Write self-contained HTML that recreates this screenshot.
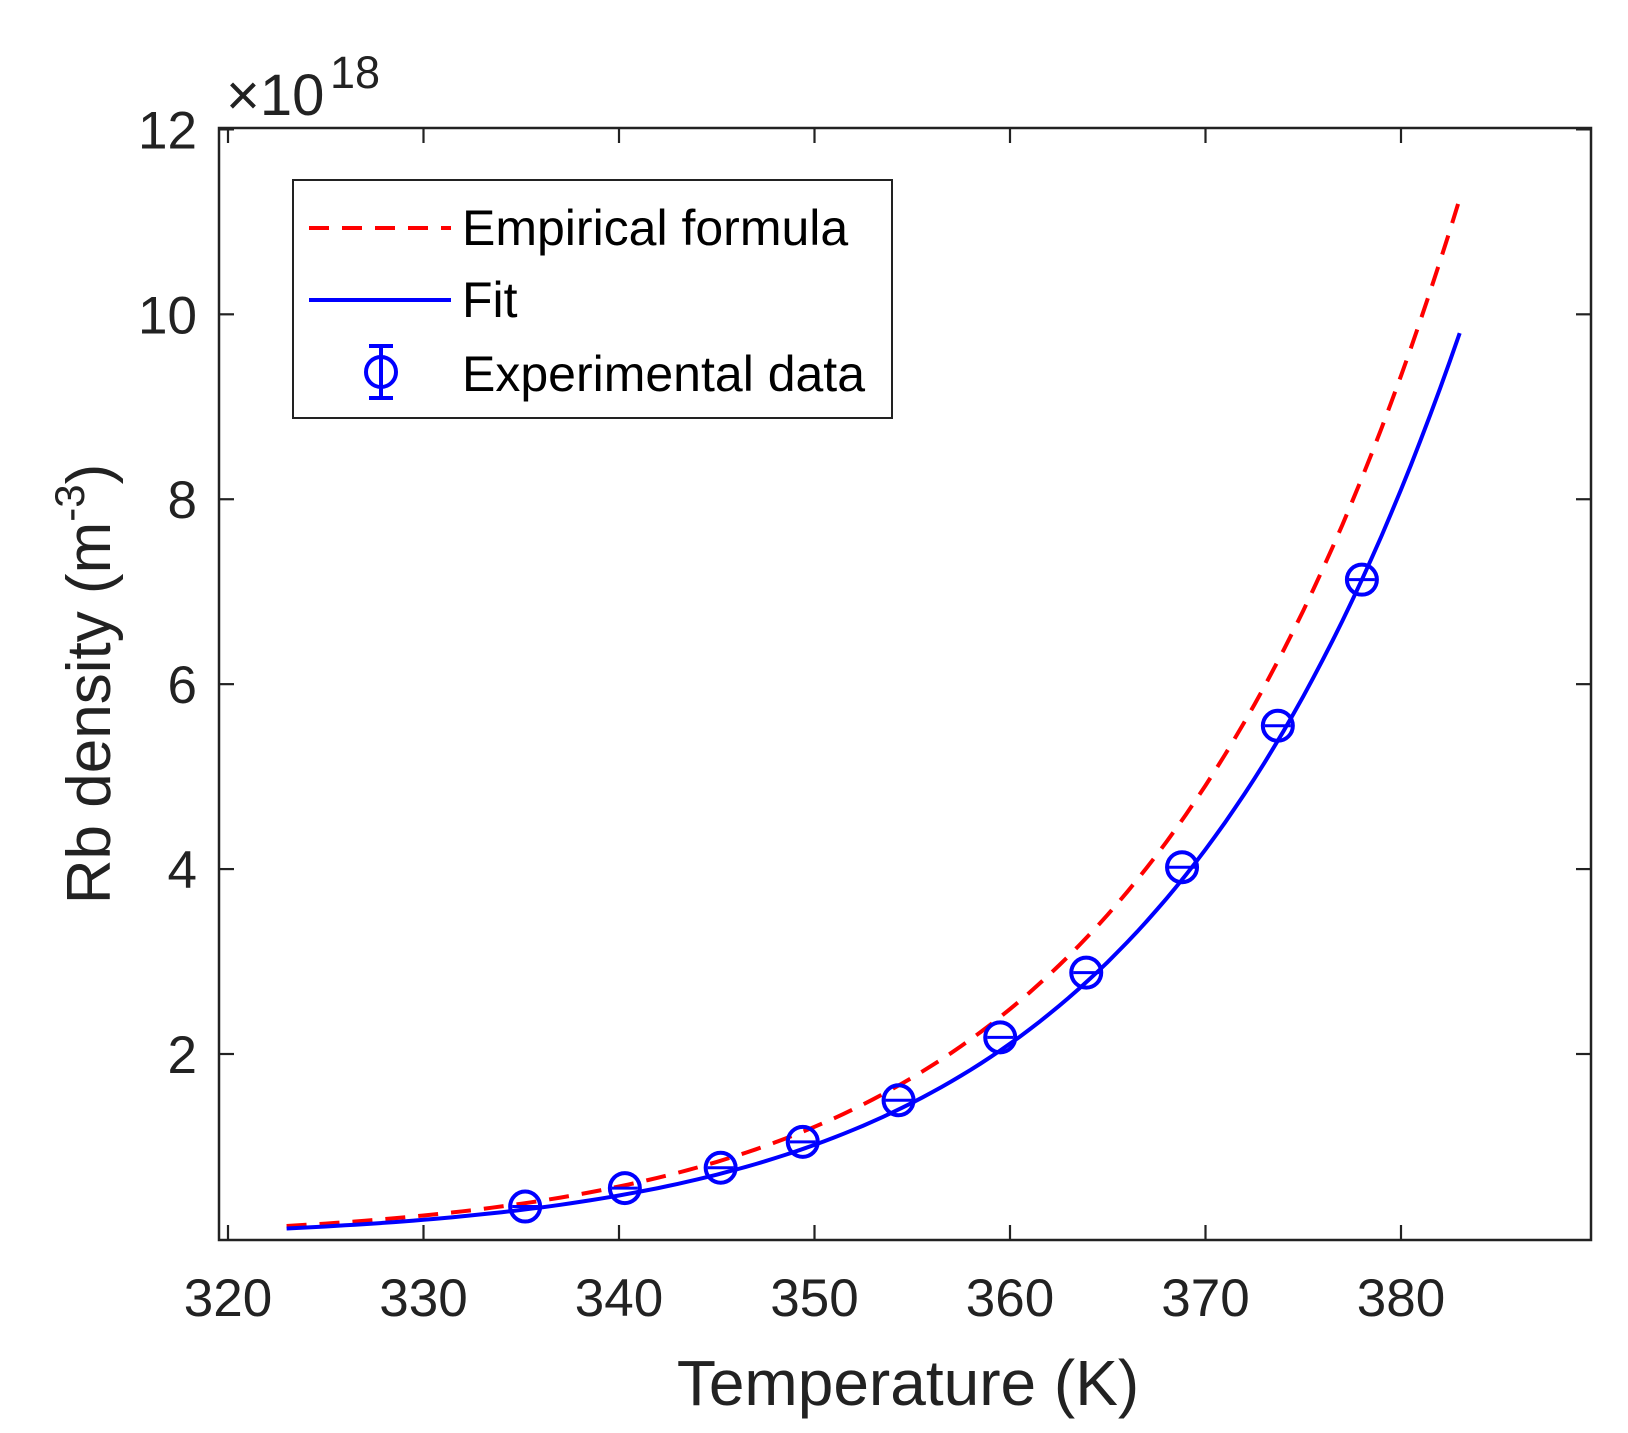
<!DOCTYPE html>
<html><head><style>html,body{margin:0;padding:0;background:#fff}</style></head>
<body>
<svg id="s" width="1628" height="1428" xmlns="http://www.w3.org/2000/svg" font-family="Liberation Sans, Arial, sans-serif" fill="#222">
<rect width="1628" height="1428" fill="#fff"/>
<g id="plot"></g>
<rect x="219" y="128" width="1372" height="1112" fill="none" stroke="#222" stroke-width="2.5"/>
<g id="ticks" stroke="#222" stroke-width="2.2"></g>
<g id="labels" font-size="53" fill="#222"></g>
<text x="226" y="115" font-size="58">×10</text>
<text x="330" y="88" font-size="45">18</text>
<text x="908" y="1405" font-size="64" text-anchor="middle">Temperature (K)</text>
<text transform="translate(110,684) rotate(-90)" font-size="62" text-anchor="middle">Rb density (m<tspan font-size="42" dy="-26">-3</tspan><tspan dy="26">)</tspan></text>
<rect x="293" y="180" width="599" height="238" fill="#fff" stroke="#222" stroke-width="2"/>
<line x1="309" y1="228" x2="451" y2="228" stroke="#f00" stroke-width="4" stroke-dasharray="20,13"/>
<line x1="309" y1="300" x2="451" y2="300" stroke="#00f" stroke-width="4"/>
<circle cx="381" cy="372" r="15" fill="none" stroke="#00f" stroke-width="4"/>
<line x1="381" y1="346" x2="381" y2="398" stroke="#00f" stroke-width="4"/>
<line x1="369" y1="346" x2="393" y2="346" stroke="#00f" stroke-width="4"/>
<line x1="369" y1="398" x2="393" y2="398" stroke="#00f" stroke-width="4"/>
<text x="462" y="245" font-size="50" fill="#000">Empirical formula</text>
<text x="462" y="317" font-size="50" fill="#000">Fit</text>
<text x="462" y="391" font-size="50" fill="#000">Experimental data</text>
</svg>
<script>
var NS="http://www.w3.org/2000/svg";
function X(t){return 228+(t-320)*19.55;}
function Y(v){return 1054-(v-2)*92.46;}
function el(p,n,a,txt){var e=document.createElementNS(NS,n);for(var k in a)e.setAttribute(k,a[k]);if(txt)e.textContent=txt;document.getElementById(p).appendChild(e);return e;}
function path(C,E,T0,n0){var d="";for(var t=323;t<=383.001;t+=0.5){var v=n0*Math.exp(-E*(1/t-1/T0));d+=(d?"L":"M")+X(t).toFixed(1)+","+Y(v).toFixed(1);}return d;}
el("plot","path",{d:path(0,9050,383,11.25),fill:"none",stroke:"#f00","stroke-width":4,"stroke-dasharray":"20,13"});
el("plot","path",{d:path(0,9200,378,7.13),fill:"none",stroke:"#00f","stroke-width":4});
var pts=[[335.2,0.35],[340.3,0.55],[345.2,0.77],[349.4,1.05],[354.3,1.5],[359.5,2.18],[363.9,2.88],[368.8,4.02],[373.7,5.55],[378.0,7.13]];
pts.forEach(function(p){el("plot","circle",{cx:X(p[0]),cy:Y(p[1]),r:15,fill:"none",stroke:"#00f","stroke-width":4});
el("plot","line",{x1:X(p[0])-13,x2:X(p[0])+13,y1:Y(p[1]),y2:Y(p[1]),stroke:"#00f","stroke-width":3});});
for(var t=320;t<=380;t+=10){var x=X(t);el("ticks","line",{x1:x,x2:x,y1:1240,y2:1225});el("ticks","line",{x1:x,x2:x,y1:128,y2:143});
el("labels","text",{x:x,y:1316,"text-anchor":"middle"},String(t));}
for(var v=2;v<=12;v+=2){var y=Y(v);el("ticks","line",{x1:219,x2:234,y1:y,y2:y});el("ticks","line",{x1:1591,x2:1576,y1:y,y2:y});
el("labels","text",{x:197,y:y+19,"text-anchor":"end"},String(v));}
</script>
</body></html>
